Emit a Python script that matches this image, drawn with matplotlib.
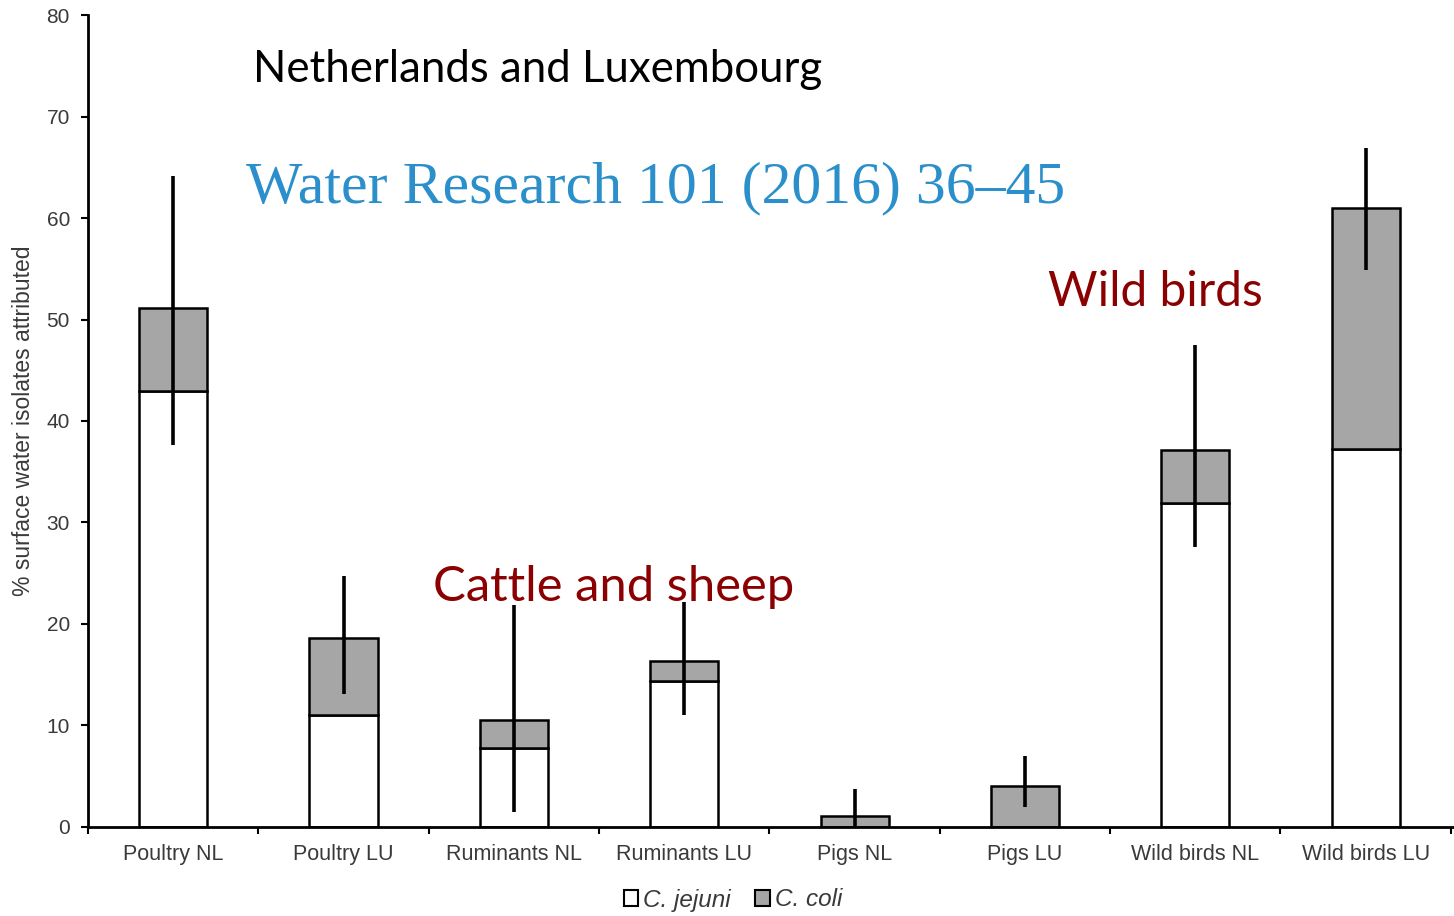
import numpy as np
import matplotlib.pyplot as plt
from matplotlib.patches import Patch

# valores
categorias = ['Poultry NL', 'Poultry LU', 'Ruminants NL', 'Ruminants LU',
              'Pigs NL', 'Pigs LU', 'Wild birds NL', 'Wild birds LU']
jejuni = [43.0, 11.0, 7.8, 14.4, 0.0, 0.0, 31.9, 37.2]
total = [51.1, 18.6, 10.5, 16.4, 1.1, 4.0, 37.1, 61.0]
err_bajo = [37.6, 13.1, 1.5, 11.0, 0.0, 2.0, 27.6, 54.9]
err_alto = [64.1, 24.7, 21.9, 22.2, 3.7, 7.0, 47.5, 66.9]
coli = [t - j for t, j in zip(total, jejuni)]

gris = '#a6a6a6'
texto_gris = '#3a3a3a'

fig = plt.figure(figsize=(14.54, 9.16), dpi=100)
ax = fig.add_axes([0.0605, 0.0972, 0.9385, 0.8864])

x = np.arange(len(categorias))
ancho = 0.4
ax.bar(x, jejuni, width=ancho, color='white', edgecolor='black', linewidth=1.8, zorder=2)
ax.bar(x, coli, width=ancho, bottom=jejuni, color=gris, edgecolor='black', linewidth=1.8, zorder=2)
ax.vlines(x, err_bajo, err_alto, color='black', linewidth=2.6, zorder=3)

ax.set_xlim(-0.5, len(categorias) - 0.49)
ax.set_ylim(0, 80)
ax.set_yticks(range(0, 81, 10))
ax.set_xticks(x)
ax.set_xticklabels(categorias, fontsize=15.5, color=texto_gris, family='Liberation Sans')
ax.set_xticks(np.arange(-0.5, len(categorias)), minor=True)
ax.tick_params(axis='x', which='major', length=0, pad=12)
ax.tick_params(axis='x', which='minor', length=5, width=1.5, direction='out')
ax.tick_params(axis='y', length=5, width=1.5, labelsize=15, labelcolor=texto_gris, pad=8)
for lbl in ax.get_yticklabels():
    lbl.set_family('Liberation Sans')

for lado in ['top', 'right']:
    ax.spines[lado].set_visible(False)
for lado in ['left', 'bottom']:
    ax.spines[lado].set_linewidth(2)

ax.set_ylabel('% surface water isolates attributed', fontsize=16.5, color=texto_gris,
              family='Liberation Sans')
ax.yaxis.set_label_coords(-0.039, 0.5)

# textos de la diapositiva
fig.text(253 / 1454, 1 - 70 / 916, 'Netherlands and Luxembourg', fontsize=31.5,
         family='Lato', color='black', va='center', ha='left')
fig.text(246 / 1454, 1 - 188 / 916, 'Water Research 101 (2016) 36\u201345', fontsize=43,
         family='Liberation Serif', color='#2a8fca', va='center', ha='left')
fig.text(1048 / 1454, 1 - 292 / 916, 'Wild birds', fontsize=34.5,
         family='Lato', color='#8b0000', va='center', ha='left')
fig.text(433 / 1454, 1 - 587 / 916, 'Cattle and sheep', fontsize=35.3,
         family='Lato', color='#8b0000', va='center', ha='left')

handles = [Patch(facecolor='white', edgecolor='black', linewidth=1.5),
           Patch(facecolor=gris, edgecolor='black', linewidth=1.5)]
fig.legend(handles, ['C. jejuni', 'C. coli'], loc='center', bbox_to_anchor=(733 / 1454, 16 / 916),
           ncol=2, frameon=False, handlelength=0.6, handleheight=0.6, handletextpad=0.2,
           columnspacing=1.0, prop={'family': 'Liberation Sans', 'style': 'italic', 'size': 17.5},
           labelcolor=texto_gris)

fig.savefig('out.png', dpi=100)
